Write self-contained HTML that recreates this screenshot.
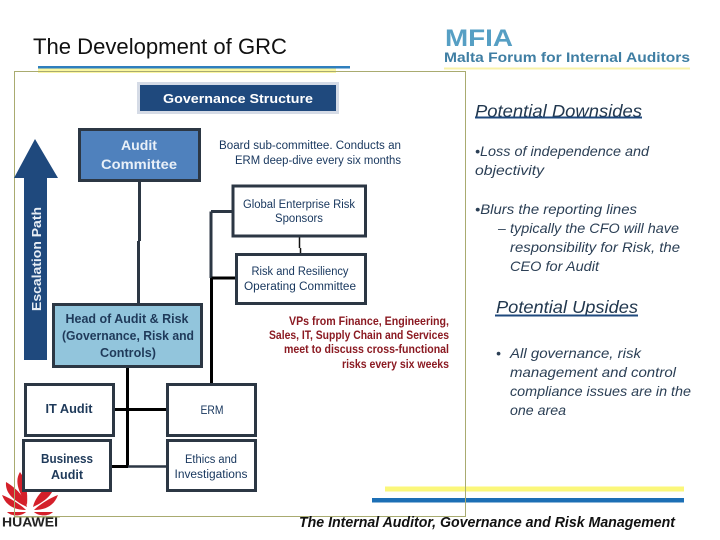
<!DOCTYPE html>
<html><head><meta charset="utf-8"><style>
html,body{margin:0;padding:0;background:#fff}
svg{display:block}
text{font-family:"Liberation Sans",sans-serif}
.s{fill:#17365d;font-size:11.5px}
.i{fill:#2b3f55;font-size:14px;font-style:italic}
.h{fill:#22384f;font-size:17.5px;font-style:italic}
.n{fill:#1f3a5a;font-weight:bold}
.w{fill:#e9f0f8;font-weight:bold}
.r{fill:#8b1a22;font-size:11.5px;font-weight:bold}
</style></head><body>
<svg width="720" height="540" viewBox="0 0 720 540" xmlns="http://www.w3.org/2000/svg">
<rect width="720" height="540" fill="#fff"/>
<text x="33" y="54" font-size="22" fill="#111" textLength="254" lengthAdjust="spacingAndGlyphs">The Development of GRC</text>
<rect x="38" y="68" width="298" height="5" fill="#fbf7a0"/>
<rect x="38" y="66" width="312" height="2.5" fill="#2f7fbe"/>
<rect x="14.5" y="71.5" width="451" height="445" fill="none" stroke="#a9ab70" stroke-width="1"/>

<text x="445" y="46" font-size="24" font-weight="bold" fill="#569fc4" textLength="68" lengthAdjust="spacingAndGlyphs">MFIA</text>
<text x="444" y="62" font-size="13.500" font-weight="bold" fill="#3f7ea3" textLength="246" lengthAdjust="spacingAndGlyphs">Malta Forum for Internal Auditors</text>
<rect x="444" y="67.500" width="246" height="2" fill="#f8f2a8"/>

<rect x="137" y="82" width="202" height="32" fill="#d5dbe6"/>
<rect x="140" y="85" width="196" height="26" fill="#1f497d"/>
<text x="238" y="103" text-anchor="middle" font-size="13" font-weight="bold" fill="#fff" textLength="150" lengthAdjust="spacingAndGlyphs">Governance Structure</text>

<polygon points="35,139 58,178 47,178 47,360 24,360 24,178 14,178" fill="#1f497d"/>
<text transform="translate(41,311) rotate(-90)" font-size="13" font-weight="bold" fill="#e8eef5" textLength="104" lengthAdjust="spacingAndGlyphs">Escalation Path</text>

<g fill="#d4202a">
<path d="M20 472C15 480 17 490 27 505C28 492 26 480 20 472Z"/>
<path d="M6 482C5 492 12 500 27 507C25 497 16 488 6 482Z"/>
<path d="M2 495C6 506 15 510 26 510C20 504 10 498 2 495Z"/>
<path d="M7 512H26C22 516 12 517 7 512Z"/>
<path d="M54 482C55 492 48 500 33 507C35 497 44 488 54 482Z"/>
<path d="M58 495C54 506 45 510 34 510C40 504 50 498 58 495Z"/>
<path d="M53 512H34C38 516 48 517 53 512Z"/>
</g>
<path d="M14.500 472V517H60" fill="none" stroke="#a9ab70" stroke-width="1"/>
<text x="2" y="526.500" font-size="13" font-weight="bold" fill="#222" textLength="56" lengthAdjust="spacingAndGlyphs">HUAWEI</text>

<g stroke="#2c3744" stroke-width="3" fill="none">
<path d="M139.500 180V241M138.500 241V303"/>
<path d="M211 211.500H233M211 211.500V278"/>
</g>
<g stroke="#000" stroke-width="3" fill="none">
<path d="M211.500 278H237M211.500 278V384"/>
<path d="M127.500 367V467"/>
<path d="M113 409.500H168"/>
<path d="M111 466.500H128"/>
</g>
<path d="M128 466.500H168" stroke="#2c3744" stroke-width="2.500"/>
<path d="M299.500 236V248M300.500 248V254" stroke="#111" stroke-width="1.500"/>

<rect x="79.500" y="129.500" width="120" height="51" fill="#4f81bd" stroke="#2c3744" stroke-width="3"/>
<text x="139" y="150" text-anchor="middle" font-size="13.500" class="w" textLength="36" lengthAdjust="spacingAndGlyphs">Audit</text>
<text x="139" y="169" text-anchor="middle" font-size="13.500" class="w" textLength="76" lengthAdjust="spacingAndGlyphs">Committee</text>

<text x="310" y="149" text-anchor="middle" class="s" textLength="182" lengthAdjust="spacingAndGlyphs">Board sub-committee.  Conducts an</text>
<text x="318" y="164" text-anchor="middle" class="s" textLength="166" lengthAdjust="spacingAndGlyphs">ERM deep-dive every six months</text>

<rect x="233" y="186" width="132.500" height="50" fill="#fff" stroke="#2c3744" stroke-width="3"/>
<text x="299" y="208" text-anchor="middle" class="s" textLength="112" lengthAdjust="spacingAndGlyphs">Global Enterprise Risk</text>
<text x="299" y="222" text-anchor="middle" class="s" textLength="48" lengthAdjust="spacingAndGlyphs">Sponsors</text>

<rect x="236.500" y="254.500" width="129" height="49" fill="#fff" stroke="#2c3744" stroke-width="3"/>
<text x="300" y="275" text-anchor="middle" class="s" textLength="97" lengthAdjust="spacingAndGlyphs">Risk and Resiliency</text>
<text x="300" y="290" text-anchor="middle" class="s" textLength="112" lengthAdjust="spacingAndGlyphs">Operating Committee</text>

<rect x="53.500" y="304.500" width="148" height="62" fill="#92c5dc" stroke="#2c3744" stroke-width="3"/>
<text x="127" y="323" text-anchor="middle" font-size="12.500" class="n" textLength="123" lengthAdjust="spacingAndGlyphs">Head of Audit &amp; Risk</text>
<text x="128" y="340" text-anchor="middle" font-size="12.500" class="n" textLength="132" lengthAdjust="spacingAndGlyphs">(Governance, Risk and</text>
<text x="128" y="357" text-anchor="middle" font-size="12.500" class="n" textLength="56" lengthAdjust="spacingAndGlyphs">Controls)</text>

<text x="449" y="325" text-anchor="end" class="r" textLength="160" lengthAdjust="spacingAndGlyphs">VPs from Finance, Engineering,</text>
<text x="449" y="339" text-anchor="end" class="r" textLength="180" lengthAdjust="spacingAndGlyphs">Sales, IT, Supply Chain and Services</text>
<text x="449" y="353" text-anchor="end" class="r" textLength="165" lengthAdjust="spacingAndGlyphs">meet to discuss cross-functional</text>
<text x="449" y="368" text-anchor="end" class="r" textLength="107" lengthAdjust="spacingAndGlyphs">risks every six weeks</text>

<g fill="#fff" stroke="#2c3744" stroke-width="3">
<rect x="25.500" y="384.500" width="88" height="51"/>
<rect x="23.500" y="440.500" width="87" height="50"/>
<rect x="167.500" y="384.500" width="88" height="51"/>
<rect x="167.500" y="440.500" width="88" height="50"/>
</g>
<text x="69" y="413" text-anchor="middle" font-size="13" class="n" textLength="47" lengthAdjust="spacingAndGlyphs">IT Audit</text>
<text x="67" y="463" text-anchor="middle" font-size="13" class="n" textLength="52" lengthAdjust="spacingAndGlyphs">Business</text>
<text x="67" y="479" text-anchor="middle" font-size="13" class="n" textLength="32" lengthAdjust="spacingAndGlyphs">Audit</text>
<text x="212" y="414" text-anchor="middle" class="s" textLength="23" lengthAdjust="spacingAndGlyphs">ERM</text>
<text x="211" y="463" text-anchor="middle" class="s" textLength="52" lengthAdjust="spacingAndGlyphs">Ethics and</text>
<text x="211" y="478" text-anchor="middle" class="s" textLength="73" lengthAdjust="spacingAndGlyphs">Investigations</text>

<text x="475" y="117" class="h" textLength="167" lengthAdjust="spacingAndGlyphs">Potential Downsides</text>
<rect x="475" y="116.500" width="167" height="2" fill="#1f497d"/>
<text x="475" y="156" class="i" textLength="174" lengthAdjust="spacingAndGlyphs">•Loss of independence and</text>
<text x="475" y="175" class="i" textLength="69" lengthAdjust="spacingAndGlyphs">objectivity</text>
<text x="475" y="214" class="i" textLength="162" lengthAdjust="spacingAndGlyphs">•Blurs the reporting lines</text>
<text x="498" y="233" class="i">–</text>
<text x="510" y="233" class="i" textLength="169" lengthAdjust="spacingAndGlyphs">typically the CFO will have</text>
<text x="510" y="252" class="i" textLength="170" lengthAdjust="spacingAndGlyphs">responsibility for Risk, the</text>
<text x="510" y="271" class="i" textLength="89" lengthAdjust="spacingAndGlyphs">CEO for Audit</text>

<text x="496" y="313" class="h" textLength="142" lengthAdjust="spacingAndGlyphs">Potential Upsides</text>
<rect x="495" y="314.500" width="143" height="2" fill="#1f497d"/>
<text x="496" y="358" class="i">•</text>
<text x="510" y="358" class="i" textLength="131" lengthAdjust="spacingAndGlyphs">All  governance, risk</text>
<text x="510" y="377" class="i" textLength="166" lengthAdjust="spacingAndGlyphs">management and control</text>
<text x="510" y="396" class="i" textLength="181" lengthAdjust="spacingAndGlyphs">compliance issues are in the</text>
<text x="510" y="415" class="i" textLength="56" lengthAdjust="spacingAndGlyphs">one area</text>

<rect x="385" y="486.500" width="299" height="5" fill="#fbf77a"/>
<rect x="372" y="498" width="312" height="4.500" fill="#1c6fb5"/>
<path d="M465.500 471V517" stroke="#a9ab70" stroke-width="1"/>
<text x="299" y="527" font-size="14.500" font-style="italic" font-weight="bold" fill="#111" textLength="376" lengthAdjust="spacingAndGlyphs">The Internal Auditor, Governance and Risk  Management</text>
</svg>
</body></html>
